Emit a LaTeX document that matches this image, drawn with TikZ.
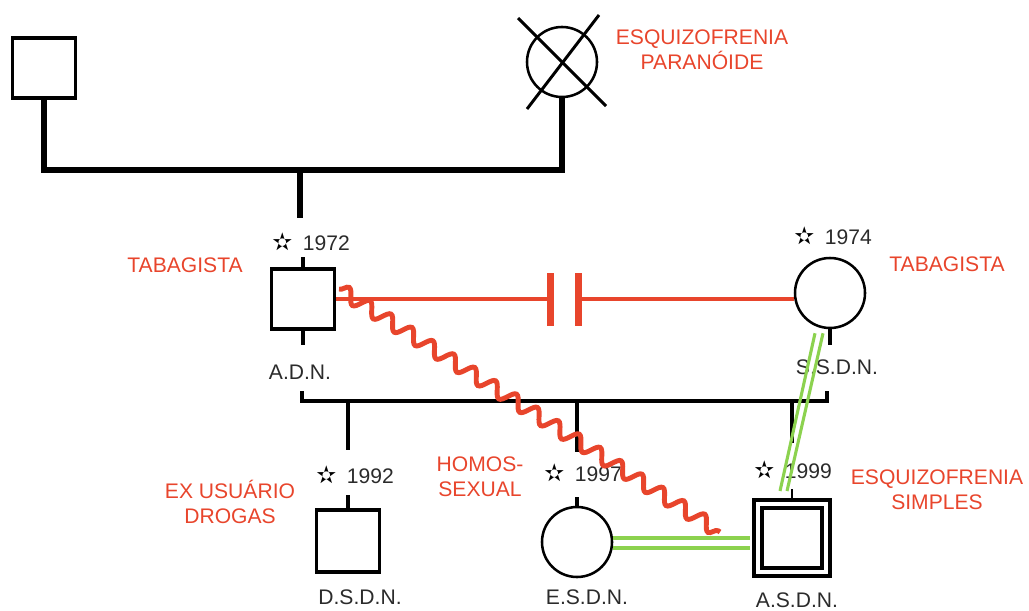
\documentclass[tikz,border=0pt]{standalone}
\usepackage{fontspec}
\setmainfont{Liberation Sans}
\newfontfamily\symfont{DejaVu Sans}
\newcommand\birthstar{{\symfont\fontsize{17}{17}\selectfont\color{black}✫}}
\usetikzlibrary{decorations.pathmorphing,positioning}
\definecolor{gnred}{HTML}{E8452C}
\definecolor{gngreen}{HTML}{8CD24F}
\definecolor{gntext}{HTML}{2B2B2B}

\begin{document}
\begin{tikzpicture}[
  x=0.025cm,y=-0.025cm,
  font=\fontsize{15}{17.5}\selectfont,
  male/.style={draw=black,line width=2.2pt,fill=white,inner sep=0pt,
    minimum width=1.575cm,minimum height=1.5cm},
  female/.style={circle,draw=black,line width=1.8pt,fill=white,inner sep=0pt,
    minimum size=1.75cm},
  patient/.style={draw=black,line width=2.8pt,double=white,
    double distance=3.5pt,inner sep=0pt,minimum size=1.7cm},
  tag/.style={text=gntext},
  note/.style={text=gnred,align=center},
  cross/.style={line width=2.1pt},
  gen/.style={line width=4.4pt},
  sib/.style={line width=2.8pt},
  stub/.style={line width=3.4pt},
  divorce/.style={draw=gnred,line width=2.8pt},
  divbar/.style={draw=gnred,line width=5pt},
  wave/.style={draw=gnred,line width=3.5pt,decorate,
    decoration={snake,amplitude=0.17cm,segment length=0.62cm}},
  bond/.style={draw=gngreen,line width=2.2pt}
]
  \useasboundingbox (0,0) rectangle (1029,610);

  % Grandparents
  \node[male] (gf) at (44,68) {};
  \node[female] (gm) at (562,62) {};
  \draw[cross] (gm.center) ++(-44,-44) -- ++(88,88);
  \draw[cross] (gm.center) ++(37,-47) -- ++(-72,94);
  \node[note] (gmnote) at (702,50) {ESQUIZOFRENIA\\PARANÓIDE};
  \coordinate (gpbar) at (300,170);
  \draw[gen] (gf.south) |- (gpbar) -| (gm.south);
  \draw[gen] (gpbar) -- ++(0,48);

  % Parents
  \node[male] (fa) at (303,299) {};
  \draw[stub] (fa.north) -- ++(0,-10);
  \draw[stub] (fa.south) -- ++(0,14);
  \node[tag] (fayr) at (311,242) {\birthstar\enspace1972};
  \node[note] (fanote) at (185,265) {TABAGISTA};
  \node[tag] (faname) at (300,372) {A.D.N.};

  \node[female] (mo) at (830,293) {};
  \draw[stub] (mo.south) -- ++(0,16);
  \node[tag] (moyr) at (833,236) {\birthstar\enspace1974};
  \node[note] (monote) at (947,264) {TABAGISTA};
  \node[tag] (moname) at (837,367) {S.S.D.N.};

  \coordinate (moin) at (fa.east -| mo.west);
  \path (fa.east) -- coordinate[midway] (split) (moin);
  \draw[divorce] (fa.east) -- ([xshift=-0.35cm]split);
  \draw[divorce] ([xshift=0.35cm]split) -- (moin);
  \draw[divbar] ([xshift=-0.35cm]split) ++(0,-26) -- ++(0,53);
  \draw[divbar] ([xshift=0.35cm]split) ++(0,-26) -- ++(0,53);

  % Children
  \coordinate (sibL) at (302,401);
  \coordinate (sibR) at (827,401);
  \draw[sib] (sibL) ++(0,-10) -- (sibL) -- (sibR) -- ++(0,-10);

  \node[male,minimum height=1.55cm] (c1) at (348,541) {};
  \node[female] (c2) at (577,542) {};
  \node[patient] (c3) at (792,538) {};
  \draw[sib] (c1.north |- sibL) -- ++(0,49);
  \draw[sib] (c2.north |- sibL) -- ++(0,51);
  \draw[sib] (c3.north |- sibL) -- ++(0,42);
  \draw[stub] (c1.north) -- ++(0,-13);
  \draw[stub] (c2.north) -- ++(0,-9);
  \draw[line width=2pt] (c3.north) -- ++(0,-13);

  \node[tag] (c1yr) at (355,475) {\birthstar\enspace1992};
  \node[note] (c1note) at (230,502) {EX USUÁRIO\\DROGAS};
  \node[tag] (c1name) at (360,597) {D.S.D.N.};

  \node[tag] (c2yr) at (583,473) {\birthstar\enspace1997};
  \node[note] (c2note) at (480,477) {HOMOS-\\SEXUAL};
  \node[tag] (c2name) at (587,597) {E.S.D.N.};

  \node[tag] (c3yr) at (793,470) {\birthstar\enspace1999};
  \node[note] (c3note) at (937,490) {ESQUIZOFRENIA\\SIMPLES};
  \node[tag] (c3name) at (797,600) {A.S.D.N.};

  % Relations
  \draw[wave] ([shift={(3,-10)}]fa.east) -- ([shift={(-36,-6)}]c3.west);
  \coordinate (c3in) at (c2.east -| c3.west);
  \draw[bond] ([shift={(0,-4)}]c2.east) -- ([shift={(-6,-4)}]c3in);
  \draw[bond] ([shift={(0,6)}]c2.east) -- ([shift={(-6,6)}]c3in);
  \draw[bond] ([shift={(-15,4)}]mo.south) -- ([shift={(-12,-11)}]c3.north);
  \draw[bond] ([shift={(-7,4)}]mo.south) -- ([shift={(-5,-11)}]c3.north);
\end{tikzpicture}
\end{document}
